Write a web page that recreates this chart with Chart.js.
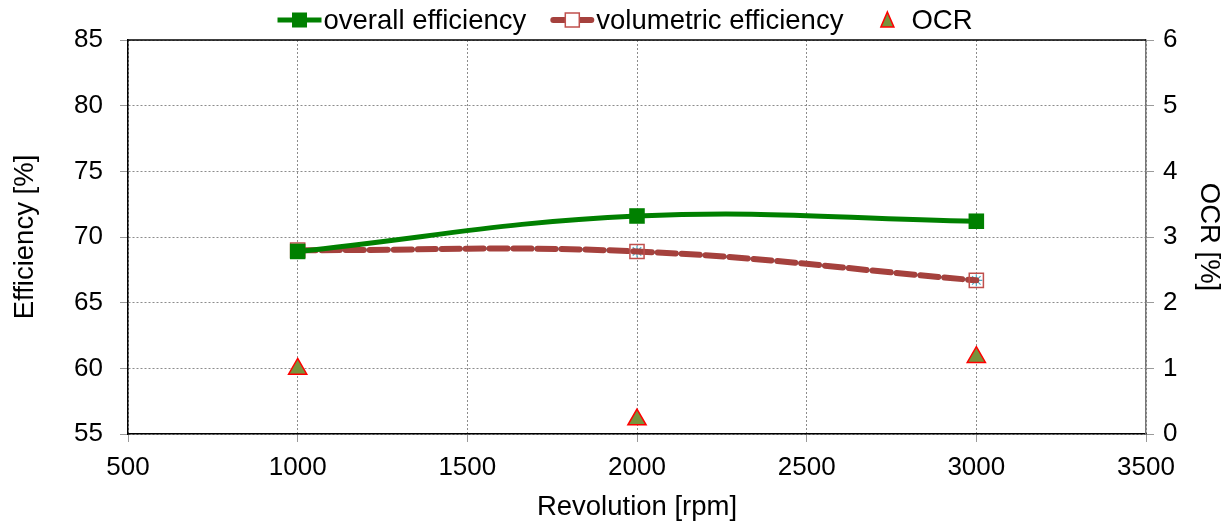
<!DOCTYPE html>
<html><head><meta charset="utf-8">
<script src="https://cdn.jsdelivr.net/npm/chart.js@4"></script>
<style>html,body{margin:0;padding:0;background:#fff}</style>
</head><body>
<canvas id="c" width="1231" height="523"></canvas>
<script>
const revolutions = [1000, 2000, 3000];
const overallEfficiency = [68.9, 71.6, 71.2];
const volumetricEfficiency = [69.0, 68.9, 66.7];
const ocrValues = [0.99, 0.22, 1.17];
const seriesNames = ['overall efficiency', 'volumetric efficiency', 'OCR'];
const xRange = [500, 3500, 500];
const effRange = [55, 85, 5];
const ocrRange = [0, 6, 1];

const GREEN = '#008000', BROWN = '#A5413D', BLUE = '#4BACC6', OLIVE = '#77933C', RED = '#FF0000';
const FONT = '"Liberation Sans", Arial, sans-serif';
const TICK_SIZE = 26, TITLE_SIZE = 27.5;

const pts = (vals) => revolutions.map((x, i) => ({x, y: vals[i]}));

const legendPlugin = {
  id: 'customLegend',
  afterDraw(chart) {
    const ctx = chart.ctx;
    ctx.save();
    ctx.font = TITLE_SIZE + 'px ' + FONT;
    ctx.textBaseline = 'middle';
    const y = 20;
    const iconW = 44, gapText = 2, gaps = [24, 22];
    const widths = seriesNames.map(n => ctx.measureText(n).width);
    let total = 0;
    widths.forEach((w, i) => { total += iconW + gapText + w + (i < gaps.length ? gaps[i] : 0); });
    let x = 625 - total / 2;
    seriesNames.forEach((name, i) => {
      const cx = x + iconW / 2;
      if (i === 0) {
        ctx.strokeStyle = GREEN; ctx.lineWidth = 5; ctx.setLineDash([]);
        ctx.beginPath(); ctx.moveTo(x, y); ctx.lineTo(x + iconW, y); ctx.stroke();
        ctx.fillStyle = GREEN; ctx.fillRect(cx - 7.5, y - 7.5, 15, 15);
      } else if (i === 1) {
        ctx.strokeStyle = BROWN; ctx.lineWidth = 6; ctx.lineCap = 'round';
        ctx.beginPath(); ctx.moveTo(x + 3, y); ctx.lineTo(x + 14, y); ctx.moveTo(x + 30, y); ctx.lineTo(x + 41, y); ctx.stroke();
        ctx.lineCap = 'butt';
        ctx.fillStyle = '#fff'; ctx.fillRect(cx - 7, y - 7, 14, 14);
        ctx.strokeStyle = '#C0504D'; ctx.lineWidth = 1.5; ctx.strokeRect(cx - 7, y - 7, 14, 14);
      } else {
        ctx.fillStyle = OLIVE; ctx.strokeStyle = RED; ctx.lineWidth = 1.5;
        ctx.beginPath(); ctx.moveTo(cx, y - 8); ctx.lineTo(cx + 6.5, y + 7); ctx.lineTo(cx - 6.5, y + 7); ctx.closePath();
        ctx.fill(); ctx.stroke();
      }
      ctx.fillStyle = '#000';
      ctx.fillText(name, x + iconW + gapText, y + 1);
      x += iconW + gapText + widths[i] + (i < gaps.length ? gaps[i] : 0);
    });
    ctx.restore();
  }
};

const framePlugin = {
  id: 'frame',
  afterDatasetsDraw(chart) {
    const {ctx, chartArea: a} = chart;
    ctx.save();
    ctx.lineWidth = 1.5;
    ctx.strokeStyle = '#000';
    ctx.beginPath(); ctx.moveTo(a.left, a.top); ctx.lineTo(a.right, a.top); ctx.stroke();
    ctx.restore();
  }
};

const gridStyle = {color: '#8C8C8C', lineWidth: 1, tickLength: 8, tickColor: '#9A9A9A'};
const plain = v => String(v);

new Chart(document.getElementById('c'), {
  type: 'scatter',
  data: {
    datasets: [
      {label: seriesNames[0], data: pts(overallEfficiency), yAxisID: 'y', showLine: true,
       borderColor: GREEN, backgroundColor: GREEN, borderWidth: 5, tension: 0.4,
       pointStyle: 'rect', pointRadius: 11, pointBorderWidth: 0, pointBackgroundColor: GREEN},
      {label: seriesNames[2], data: pts(ocrValues), yAxisID: 'y2', showLine: false,
       pointStyle: 'triangle', pointRadius: 10.5, pointBackgroundColor: OLIVE, pointBorderColor: RED, pointBorderWidth: 1.5},
      {label: seriesNames[1], data: pts(volumetricEfficiency), yAxisID: 'y', showLine: true,
       borderColor: BROWN, backgroundColor: 'rgba(0,0,0,0)', borderWidth: 6, borderDash: [18, 6], borderCapStyle: 'round', tension: 0.4,
       pointStyle: 'rect', pointRadius: 10, pointBorderWidth: 1.5, pointBorderColor: '#C0504D', pointBackgroundColor: 'rgba(255,255,255,0)'},
      {label: 'hidden', data: pts(volumetricEfficiency), yAxisID: 'y', showLine: true,
       borderColor: BLUE, borderWidth: 2.5, tension: 0.4,
       pointStyle: 'star', pointRadius: 6, pointBorderColor: BLUE, pointBorderWidth: 1.2, pointBackgroundColor: BLUE}
    ]
  },
  options: {
    responsive: false, animation: false,
    layout: {padding: {top: 40, right: 0, left: 0, bottom: 0}},
    plugins: {legend: {display: false}, tooltip: {enabled: false}},
    scales: {
      x: {type: 'linear', min: xRange[0], max: xRange[1],
          afterFit: s => { s.height = 89; },
          ticks: {stepSize: xRange[2], callback: plain, color: '#000', font: {family: FONT, size: TICK_SIZE}, padding: 10, maxRotation: 0},
          grid: Object.assign({}, gridStyle),
          border: {color: '#000', width: 1.5, dash: [2, 2], display: true},
          title: {display: true, text: 'Revolution [rpm]', color: '#000', font: {family: FONT, size: TITLE_SIZE}, padding: {top: 0, bottom: -1}}},
      y: {type: 'linear', position: 'left', min: effRange[0], max: effRange[1],
          afterFit: s => { s.width = 128; },
          ticks: {stepSize: effRange[2], callback: plain, color: '#000', font: {family: FONT, size: TICK_SIZE}, padding: 17},
          grid: Object.assign({}, gridStyle),
          border: {color: '#000', width: 1.5, dash: [2, 2]},
          title: {display: true, text: 'Efficiency [%]', color: '#000', font: {family: FONT, size: TITLE_SIZE}, padding: {top: 9, bottom: 0}}},
      y2: {type: 'linear', position: 'right', min: ocrRange[0], max: ocrRange[1],
          afterFit: s => { s.width = 85; },
          ticks: {stepSize: ocrRange[2], callback: plain, color: '#000', font: {family: FONT, size: TICK_SIZE}, padding: 9},
          grid: Object.assign({}, gridStyle, {drawOnChartArea: false}),
          border: {color: '#777', width: 1.5},
          title: {display: true, text: 'OCR [%]', color: '#000', font: {family: FONT, size: TITLE_SIZE}, padding: {top: 6, bottom: 0}}}
    }
  },
  plugins: [legendPlugin, framePlugin]
});
</script>
</body></html>
